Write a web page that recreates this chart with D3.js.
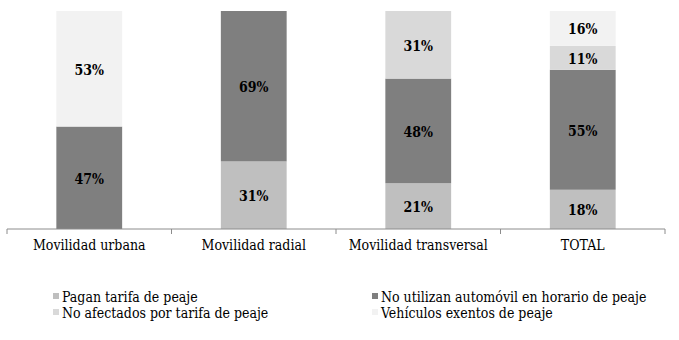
<!DOCTYPE html>
<html>
<head>
<meta charset="utf-8">
<script src="https://cdn.jsdelivr.net/npm/d3@7"></script>
<style>
  body { margin: 0; background: #fff; }
</style>
</head>
<body>
<div id="chart"></div>
<script>
// data (percent of each group)
var categories = ['Movilidad urbana', 'Movilidad radial', 'Movilidad transversal', 'TOTAL'];
var seriesNames = [
  'Pagan tarifa de peaje',
  'No utilizan automóvil en horario de peaje',
  'No afectados por tarifa de peaje',
  'Vehículos exentos de peaje'
];
var pagan = [0, 31, 21, 18];
var noUtilizan = [47, 69, 48, 55];
var noAfectados = [0, 0, 31, 11];
var exentos = [53, 0, 0, 16];
var colors = ['#bfbfbf', '#7f7f7f', '#d9d9d9', '#f2f2f2'];

var width = 679, height = 340;
var plotLeft = 7, plotRight = 665, plotTop = 11, plotBottom = 229;
var fontFam = 'DejaVu Serif Condensed, DejaVu Serif';

var svg = d3.select('#chart').append('svg')
  .attr('width', width)
  .attr('height', height)
  .attr('font-family', fontFam);

var rows = categories.map(function (c, i) {
  return { cat: c, s0: pagan[i], s1: noUtilizan[i], s2: noAfectados[i], s3: exentos[i] };
});
var keys = ['s0', 's1', 's2', 's3'];
var stacked = d3.stack().keys(keys)(rows);

var x = d3.scaleBand().domain(categories).range([plotLeft, plotRight]).paddingInner(0.6).paddingOuter(0.3);
var xEdge = d3.scaleBand().domain(categories).range([plotLeft, plotRight]);
var y = d3.scaleLinear().domain([0, 100]).range([plotBottom, plotTop]);

var layers = svg.selectAll('g.layer')
  .data(stacked)
  .join('g')
  .attr('class', 'layer')
  .attr('fill', function (d, i) { return colors[i]; });

layers.selectAll('rect')
  .data(function (d) { return d.filter(function (p) { return p[1] - p[0] > 0; }); })
  .join('rect')
  .attr('x', function (d) { return x(d.data.cat); })
  .attr('width', x.bandwidth())
  .attr('y', function (d) { return y(d[1]); })
  .attr('height', function (d) { return y(d[0]) - y(d[1]); });

layers.selectAll('text')
  .data(function (d) { return d.filter(function (p) { return p[1] - p[0] > 0; }); })
  .join('text')
  .attr('x', function (d) { return x(d.data.cat) + x.bandwidth() / 2; })
  .attr('y', function (d) { return y((d[0] + d[1]) / 2); })
  .attr('dy', '0.42em')
  .attr('text-anchor', 'middle')
  .attr('fill', '#000')
  .attr('font-weight', 'bold')
  .attr('font-size', 14)
  .text(function (d) { return Math.round(d[1] - d[0]) + '%'; });

// x axis with ticks between categories
var axis = svg.append('g').attr('transform', 'translate(0,' + plotBottom + ')');
axis.append('line')
  .attr('x1', plotLeft).attr('x2', plotRight)
  .attr('stroke', '#8c8c8c');
var edges = categories.map(function (c) { return xEdge(c); }).concat([plotRight]);
axis.selectAll('line.tick')
  .data(edges)
  .join('line')
  .attr('class', 'tick')
  .attr('x1', function (d) { return d; }).attr('x2', function (d) { return d; })
  .attr('y1', 0).attr('y2', 5)
  .attr('stroke', '#8c8c8c');
axis.selectAll('text')
  .data(categories)
  .join('text')
  .attr('x', function (d) { return xEdge(d) + xEdge.bandwidth() / 2; })
  .attr('y', 21)
  .attr('text-anchor', 'middle')
  .attr('fill', '#000')
  .attr('font-size', 14)
  .text(function (d) { return d; });

// legend
var legendPos = [[53, 302], [372, 302], [53, 318], [372, 318]];
var legend = svg.selectAll('g.legend')
  .data(seriesNames)
  .join('g')
  .attr('class', 'legend')
  .attr('transform', function (d, i) { return 'translate(' + legendPos[i][0] + ',' + legendPos[i][1] + ')'; });
legend.append('rect')
  .attr('x', 0).attr('y', -9)
  .attr('width', 6).attr('height', 6)
  .attr('fill', function (d, i) { return colors[i]; });
legend.append('text')
  .attr('x', 9).attr('y', 0)
  .attr('fill', '#000')
  .attr('font-size', 14)
  .text(function (d) { return d; });
</script>
</body>
</html>
